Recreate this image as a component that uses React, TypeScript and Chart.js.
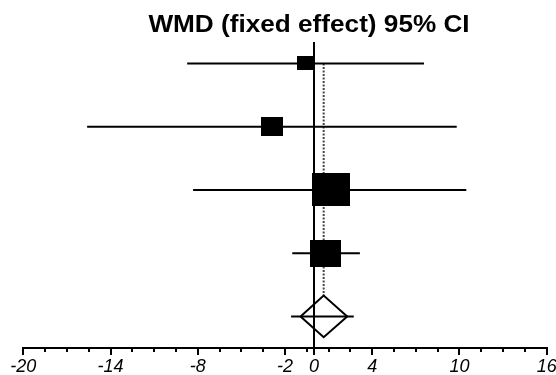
import React, { useEffect, useRef } from "react";
import { Chart, registerables } from "chart.js";

Chart.register(...registerables);

const TITLE = "WMD (fixed effect) 95% CI";
const STUDY_ROWS = [1, 2, 3, 4];
const STUDY_MEAN = [-0.59, -2.91, 1.16, 0.79];
const STUDY_LOW = [-8.73, -15.61, -8.32, -1.5];
const STUDY_HIGH = [7.56, 9.81, 10.47, 3.15];
const STUDY_WEIGHT = [8.2, 15.3, 45.9, 30.6];
const POOLED_ROW = 5;
const POOLED_MEAN = 0.66;
const POOLED_LOW = -1.58;
const POOLED_HIGH = 2.73;
const POOLED_DIAMOND_LOW = -0.93;
const POOLED_DIAMOND_HIGH = 2.28;
const X_TICKS = [-20, -18.5, -17, -15.5, -14, -12.5, -11, -9.5, -8, -6.5, -5, -3.5, -2, -0.5, 0, 1, 2.5, 4, 5.5, 7, 8.5, 10, 11.5, 13, 14.5, 16];
const X_LABELS = [-20, -14, -8, -2, 0, 4, 10, 16];

const FONT = "'Liberation Sans', Arial, sans-serif";

function makeRect(weight: number): HTMLCanvasElement {
  const side = Math.sqrt(weight) * 5.24;
  const c = document.createElement("canvas");
  c.width = Math.round(side * 1.07);
  c.height = Math.round(side * 0.93);
  const g = c.getContext("2d")!;
  g.fillStyle = "#000";
  g.fillRect(0, 0, c.width, c.height);
  return c;
}

export default function App() {
  const ref = useRef<HTMLCanvasElement | null>(null);

  useEffect(() => {
    if (!ref.current) return;
    const rects = STUDY_WEIGHT.map(makeRect);
    const halfH = 0.33;

    const ciSets = STUDY_ROWS.map((r, i) => ({
      type: "scatter" as const,
      data: [
        { x: STUDY_LOW[i], y: r },
        { x: STUDY_HIGH[i], y: r },
      ],
      showLine: true,
      borderColor: "#000",
      borderWidth: 2,
      pointRadius: 0,
      borderCapStyle: "butt" as const,
    }));

    const titlePlugin = {
      id: "titleText",
      afterDraw(chart: any) {
        const ctx = chart.ctx;
        ctx.save();
        ctx.font = `bold 24px ${FONT}`;
        ctx.fillStyle = "#000";
        ctx.textAlign = "center";
        ctx.textBaseline = "alphabetic";
        ctx.translate(chart.width / 2 + 31, 32);
        ctx.scale(1.09, 1);
        ctx.fillText(TITLE, 0, 0);
        ctx.restore();
      },
    };

    const minorTicks = {
      id: "minorTicks",
      afterDraw(chart: any) {
        const s = chart.scales.x;
        const ctx = chart.ctx;
        ctx.save();
        ctx.strokeStyle = "#000";
        ctx.lineWidth = 2;
        s.ticks.forEach((t: any) => {
          if (X_LABELS.includes(t.value)) return;
          const x = Math.round(s.getPixelForValue(t.value));
          ctx.beginPath();
          ctx.moveTo(x, s.top);
          ctx.lineTo(x, s.top + 4);
          ctx.stroke();
        });
        ctx.restore();
      },
    };

    const chart = new Chart(ref.current, {
      type: "scatter",
      data: {
        datasets: [
          ...ciSets,
          {
            data: [
              { x: POOLED_LOW, y: POOLED_ROW },
              { x: POOLED_HIGH, y: POOLED_ROW },
            ],
            showLine: true,
            borderColor: "#000",
            borderWidth: 2,
            pointRadius: 0,
          },
          {
            data: STUDY_ROWS.map((r, i) => ({ x: STUDY_MEAN[i], y: r })),
            showLine: false,
            pointRadius: 3,
            pointHoverRadius: 3,
            pointStyle: (c: any) => rects[c.dataIndex] as any,
          },
          {
            data: [
              { x: POOLED_DIAMOND_LOW, y: POOLED_ROW },
              { x: POOLED_MEAN, y: POOLED_ROW - halfH },
              { x: POOLED_DIAMOND_HIGH, y: POOLED_ROW },
              { x: POOLED_MEAN, y: POOLED_ROW + halfH },
              { x: POOLED_DIAMOND_LOW, y: POOLED_ROW },
            ],
            showLine: true,
            borderColor: "#000",
            borderWidth: 2,
            borderJoinStyle: "miter",
            pointRadius: 0,
            fill: false,
          },
          {
            data: [
              { x: POOLED_MEAN, y: 1 },
              { x: POOLED_MEAN, y: POOLED_ROW - halfH },
            ],
            showLine: true,
            borderColor: "#444",
            borderWidth: 2,
            borderDash: [2, 1.5],
            pointRadius: 0,
          },
        ] as any,
      },
      options: {
        animation: false,
        responsive: false,
        events: [],
        layout: { padding: { left: 23.3, right: 9.3, top: 42, bottom: -4 } },
        plugins: {
          legend: { display: false },
          tooltip: { enabled: false },
          title: { display: false },
        },
        scales: {
          x: {
            type: "linear",
            min: -20,
            max: 16,
            afterBuildTicks: (axis: any) => {
              axis.ticks = X_TICKS.map((v) => ({ value: v }));
            },
            afterFit: (axis: any) => {
              axis.paddingLeft = 0;
              axis.paddingRight = 0;
            },
            border: { display: true, color: "#000", width: 2 },
            grid: {
              drawOnChartArea: true,
              drawTicks: true,
              tickLength: 7,
              tickWidth: 2,
              lineWidth: 2,
              color: (c: any) => (c.tick && c.tick.value === 0 ? "#000" : "rgba(0,0,0,0)"),
              tickColor: (c: any) => (c.tick && X_LABELS.includes(c.tick.value) ? "#000" : "rgba(0,0,0,0)"),
            },
            ticks: {
              autoSkip: false,
              maxRotation: 0,
              padding: 3,
              color: "#000",
              font: { family: FONT, size: 18, style: "italic", lineHeight: 1 },
              callback: (v: any) => (X_LABELS.includes(Number(v)) ? String(v) : ""),
            },
          },
          y: {
            type: "linear",
            display: false,
            reverse: true,
            min: 0.66,
            max: 5.5,
          },
        },
      },
      plugins: [titlePlugin, minorTicks],
    });
    return () => chart.destroy();
  }, []);

  return (
    <div style={{ position: "fixed", left: 0, top: 0, width: 556, height: 375, overflow: "hidden", background: "#fff" }}>
      <canvas ref={ref} width={556} height={375} style={{ display: "block" }} />
    </div>
  );
}
